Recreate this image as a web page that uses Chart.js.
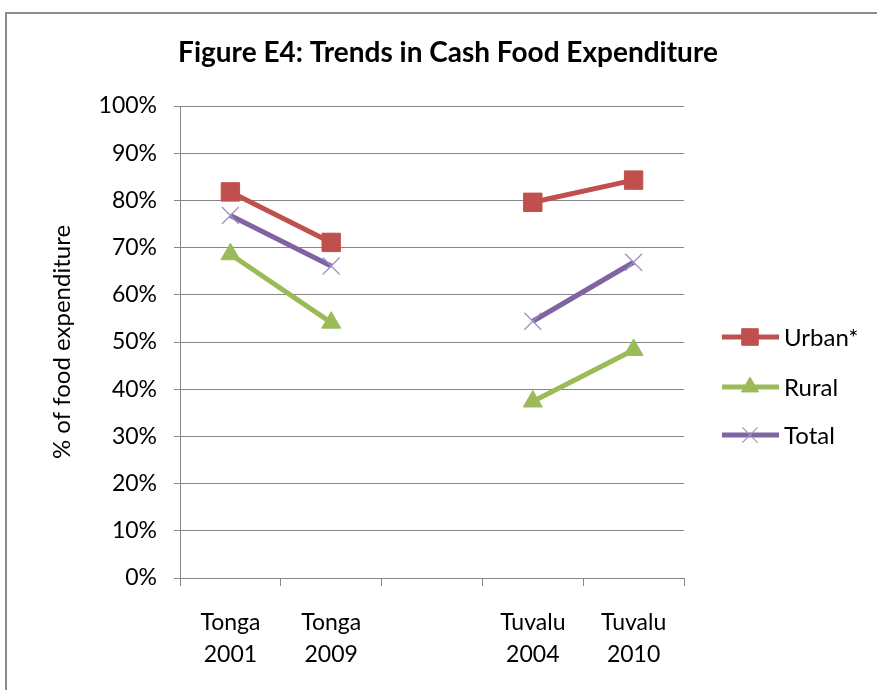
<!DOCTYPE html>
<html>
<head>
<meta charset="utf-8">
<script src="https://cdn.jsdelivr.net/npm/chart.js@4.4.1/dist/chart.umd.min.js"></script>
<style>
  html, body { margin: 0; padding: 0; background: #fff; }
  #wrap { width: 877px; height: 690px; }
</style>
</head>
<body>
<div id="wrap"><canvas id="cashChart" width="877" height="690"></canvas></div>
<script>
// categories (blank one makes the gap between the countries)
const categories = [['Tonga', '2001'], ['Tonga', '2009'], '', ['Tuvalu', '2004'], ['Tuvalu', '2010']];
const urbanValues = [81.8, 71.1, null, 79.6, 84.3];
const ruralValues = [68.6, 54.1, null, 37.4, 48.3];
const totalValues = [76.8, 66.1, null, 54.4, 66.9];
const seriesNames = ['Urban*', 'Rural', 'Total'];
const yTickStep = 10;

const FONT = 'Lato, "Open Sans", sans-serif';
const GRID = '#868686';

// frame, title and legend drawn by hand
const decorPlugin = {
  id: 'decor',
  afterDraw(chart) {
    const ctx = chart.ctx;
    ctx.save();
    ctx.strokeStyle = '#8c8c8c';
    ctx.lineWidth = 2;
    ctx.beginPath();
    ctx.moveTo(6, 690);
    ctx.lineTo(6, 13);
    ctx.lineTo(877, 13);
    ctx.stroke();

    ctx.fillStyle = '#000';
    ctx.font = 'bold 28px ' + FONT;
    ctx.textAlign = 'center';
    ctx.textBaseline = 'middle';
    ctx.fillText('Figure E4: Trends in Cash Food Expenditure', 448, 53);

    const ys = [337, 387, 435];
    chart.data.datasets.forEach((ds, i) => {
      const y = ys[i];
      ctx.strokeStyle = ds.borderColor;
      ctx.lineWidth = ds.borderWidth;
      ctx.beginPath();
      ctx.moveTo(722, y);
      ctx.lineTo(779, y);
      ctx.stroke();
      ctx.fillStyle = ds.pointBackgroundColor;
      ctx.strokeStyle = ds.pointBorderColor;
      ctx.lineWidth = ds.pointBorderWidth;
      Chart.helpers.drawPoint(ctx, {
        pointStyle: ds.pointStyle,
        radius: ds.pointRadius * 0.9,
        rotation: 0,
        borderWidth: ds.pointBorderWidth
      }, 750, y);
      ctx.fillStyle = '#000';
      ctx.font = '24px ' + FONT;
      ctx.textAlign = 'left';
      ctx.fillText(ds.label, 784, y + 1);
    });
    ctx.restore();
  }
};

const ctx = document.getElementById('cashChart').getContext('2d');
const cashChart = new Chart(ctx, {
  type: 'line',
  data: {
    labels: categories,
    datasets: [{
      label: seriesNames[0],
      data: urbanValues,
      borderColor: '#C0504D',
      borderWidth: 5,
      pointStyle: 'rect',
      pointRadius: 13,
      pointBackgroundColor: '#C0504D',
      pointBorderColor: '#C0504D',
      pointBorderWidth: 1
    }, {
      label: seriesNames[1],
      data: ruralValues,
      borderColor: '#9BBB59',
      borderWidth: 5,
      pointStyle: 'triangle',
      pointRadius: 11,
      pointBackgroundColor: '#9BBB59',
      pointBorderColor: '#9BBB59',
      pointBorderWidth: 1
    }, {
      label: seriesNames[2],
      data: totalValues,
      borderColor: '#8064A2',
      borderWidth: 5,
      pointStyle: 'crossRot',
      pointRadius: 12,
      pointBackgroundColor: '#9f8cc4',
      pointBorderColor: '#9f8cc4',
      pointBorderWidth: 1.2
    }]
  },
  options: {
    responsive: false,
    animation: false,
    spanGaps: false,
    layout: { padding: { left: 0, right: 193, top: 106, bottom: 0 } },
    plugins: {
      legend: { display: false },
      title: { display: false },
      tooltip: { enabled: false }
    },
    scales: {
      x: {
        offset: true,
        grid: { drawOnChartArea: false, drawTicks: true, tickLength: 8, color: GRID, offset: true },
        border: { color: GRID },
        ticks: { color: '#000', font: { family: FONT, size: 23, lineHeight: 1.38 }, padding: 21, maxRotation: 0 },
        afterFit(scale) { scale.height = 112; }
      },
      y: {
        min: 0,
        max: 100,
        grid: { color: GRID, tickLength: 6 },
        border: { color: GRID },
        ticks: {
          stepSize: yTickStep,
          color: '#000',
          padding: 17,
          font: { family: FONT, size: 23 },
          callback: v => v + '%'
        },
        title: {
          display: true,
          text: '% of food expenditure',
          color: '#000',
          font: { family: FONT, size: 24 },
          padding: { top: 48, bottom: 0 }
        },
        afterFit(scale) { scale.width = 180; }
      }
    }
  },
  plugins: [decorPlugin]
});
</script>
</body>
</html>
